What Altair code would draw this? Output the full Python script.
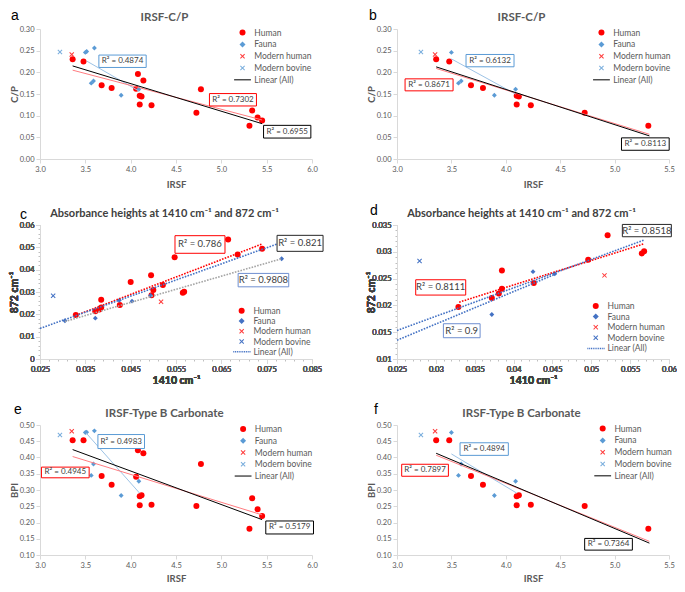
import altair as alt
import pandas as pd

FONT = "Lato"
SERIES = ["Human", "Fauna", "Modern human", "Modern bovine", "Linear (All)"]

# ---------------- IRSF / C/P / BPI samples (panels a, b, e, f) ----------------
human_irsf = [3.36, 3.48, 3.68, 3.79, 4.06, 4.08, 4.14, 4.10, 4.12, 4.10, 4.23, 4.725, 4.775, 5.31, 5.34, 5.40, 5.45]
human_cp = [0.230, 0.225, 0.170, 0.164, 0.162, 0.196, 0.181, 0.146, 0.144, 0.126, 0.124, 0.107, 0.161, 0.077, 0.112, 0.096, 0.089]
human_bpi = [0.453, 0.453, 0.343, 0.316, 0.341, 0.422, 0.413, 0.281, 0.284, 0.253, 0.255, 0.251, 0.380, 0.181, 0.275, 0.241, 0.220]
human_in_bf = [1, 1, 1, 1, 0, 0, 0, 1, 1, 1, 1, 1, 0, 1, 0, 0, 0]

fauna_irsf = [3.50, 3.515, 3.60, 3.565, 3.59, 3.895, 4.09]
fauna_cp = [0.246, 0.248, 0.256, 0.175, 0.180, 0.147, 0.161]
fauna_bpi = [0.477, 0.478, 0.482, 0.345, 0.380, 0.283, 0.327]
fauna_in_bf = [1, 0, 0, 1, 1, 1, 1]

modern_human_irsf = [3.35]
modern_human_cp = [0.241]
modern_human_bpi = [0.481]
modern_bovine_irsf = [3.22]
modern_bovine_cp = [0.247]
modern_bovine_bpi = [0.469]

# ---------------- absorbance heights (panels c, d) ----------------
human_a1410 = [0.0329, 0.0372, 0.0381, 0.0385, 0.0385, 0.0426, 0.0450, 0.0495, 0.0496, 0.0500, 0.0521, 0.0547, 0.0565, 0.0568, 0.0665, 0.0686, 0.0740]
human_a872 = [0.0197, 0.0214, 0.0222, 0.0231, 0.0265, 0.0242, 0.0345, 0.0375, 0.0285, 0.0309, 0.0331, 0.0456, 0.0297, 0.0301, 0.0535, 0.0468, 0.0494]
human_in_d = [1, 1, 1, 1, 1, 1, 0, 0, 1, 0, 1, 0, 1, 1, 0, 0, 0]
fauna_a1410 = [0.0305, 0.0372, 0.0425, 0.0453, 0.0494, 0.0783]
fauna_a872 = [0.0171, 0.0183, 0.0263, 0.0259, 0.0284, 0.0449]
fauna_in_d = [0, 1, 1, 1, 0, 0]
modern_human_a1410 = [0.0517]
modern_human_a872 = [0.0256]
modern_bovine_a1410 = [0.0279]
modern_bovine_a872 = [0.0283]

# ---------------- trendline end points ----------------
a_all_x, a_all_y = [3.36, 5.45], [0.2148, 0.0815]
a_hum_x, a_hum_y = [3.36, 5.45], [0.205, 0.090]
a_fau_x, a_fau_y = [3.515, 4.09], [0.226, 0.157]
b_all_x, b_all_y = [3.36, 5.32], [0.2126, 0.0533]
b_hum_x, b_hum_y = [3.36, 5.32], [0.209, 0.057]
b_fau_x, b_fau_y = [3.50, 4.09], [0.231, 0.1496]
c_all_x, c_all_y = [0.025, 0.0783], [0.0137, 0.0522]
c_hum_x, c_hum_y = [0.0329, 0.0740], [0.0195, 0.0515]
c_fau_x, c_fau_y = [0.0305, 0.0783], [0.0168, 0.0449]
d_all_x, d_all_y = [0.025, 0.0568], [0.0153, 0.0322]
d_hum_x, d_hum_y = [0.0330, 0.0568], [0.0206, 0.0315]
d_fau_x, d_fau_y = [0.025, 0.0455], [0.0135, 0.0259]
e_all_x, e_all_y = [3.36, 5.45], [0.4244, 0.2088]
e_hum_x, e_hum_y = [3.36, 5.45], [0.403, 0.2235]
e_fau_x, e_fau_y = [3.51, 4.10], [0.475, 0.290]
f_all_x, f_all_y = [3.36, 5.32], [0.413, 0.1365]
f_hum_x, f_hum_y = [3.36, 5.32], [0.407, 0.142]
f_fau_x, f_fau_y = [3.50, 4.10], [0.411, 0.2906]

# R² labels (fauna, human, all)
r2_a = ["R² = 0.4874", "R² = 0.7302", "R² = 0.6955"]
r2_b = ["R² = 0.6132", "R² = 0.8671", "R² = 0.8113"]
r2_c = ["R² = 0.9808", "R² = 0.786", "R² = 0.821"]
r2_d = ["R² = 0.9", "R² = 0.8111", "R² = 0.8518"]
r2_e = ["R² = 0.4983", "R² = 0.4945", "R² = 0.5179"]
r2_f = ["R² = 0.4894", "R² = 0.7897", "R² = 0.7364"]

# axis tick labels
irsf_ticks_6 = [3.0, 3.5, 4.0, 4.5, 5.0, 5.5, 6.0]
irsf_ticks_55 = [3.0, 3.5, 4.0, 4.5, 5.0, 5.5]
cp_ticks = [0.0, 0.05, 0.10, 0.15, 0.20, 0.25, 0.30]
bpi_ticks = [0.10, 0.15, 0.20, 0.25, 0.30, 0.35, 0.40, 0.45, 0.50]
a1410_ticks_c = [0.025, 0.035, 0.045, 0.055, 0.065, 0.075, 0.085]
a872_ticks_c = [0.0, 0.01, 0.02, 0.03, 0.04, 0.05, 0.06]
a1410_ticks_d = [0.025, 0.03, 0.035, 0.04, 0.045, 0.05, 0.055, 0.06]
a872_ticks_d = [0.01, 0.015, 0.02, 0.025, 0.03, 0.035]

# minor tick marks (panels c, d): five per major interval
def minor(lo, hi, step):
    n = int(round((hi - lo) / step))
    return [round(lo + i * step, 5) for i in range(n + 1)]

minor_x_c = minor(0.025, 0.085, 0.002)
minor_y_c = minor(0.0, 0.06, 0.002)
minor_x_d = minor(0.025, 0.06, 0.001)
minor_y_d = minor(0.01, 0.035, 0.001)

# ---------------- layout / style ----------------
W = 272
XPATH = ("M-0.83,-0.59L-0.59,-0.83L0,-0.24L0.59,-0.83L0.83,-0.59L0.24,0L0.83,0.59"
         "L0.59,0.83L0,0.24L-0.59,0.83L-0.83,0.59L-0.24,0Z")
LINE_SOLID = "M-2.8,-0.17L2.8,-0.17L2.8,0.17L-2.8,0.17Z"
_segs = []
_x = -2.8
while _x < 2.8:
    _segs.append(f"M{_x:.2f},-0.25L{_x+0.35:.2f},-0.25L{_x+0.35:.2f},0.25L{_x:.2f},0.25Z")
    _x += 0.6
LINE_DOTTED = "".join(_segs)


def rows(xl, yl, series, flags=None):
    return pd.DataFrame([{"x": a, "y": b, "series": series}
                         for i, (a, b) in enumerate(zip(xl, yl)) if flags is None or flags[i]])


def seg(xl, yl):
    return pd.DataFrame({"x": xl, "y": yl})


def panel(p):
    H = p["H"]
    sx = W / p["ref"][0]
    sy = H / p["ref"][1]
    big = p["big"]
    xs = alt.Scale(domain=p["xdom"], nice=False, zero=False)
    ys = alt.Scale(domain=p["ydom"], nice=False, zero=False)
    tcol = "#404040" if big else "#595959"
    tsize = 10.5 if big else 9.5
    xax = alt.Axis(values=p["xticks"], format=p["xfmt"], title=p["xtitle"], titlePadding=p["xtp"],
                   titleColor=tcol, titleFontSize=tsize, orient="bottom")
    yax = alt.Axis(values=p["yticks"], format=p["yfmt"], title=p["ytitle"],
                   titleColor=tcol, titleFontSize=tsize, orient="left")
    X = alt.X("x:Q", scale=xs, axis=xax)
    Y = alt.Y("y:Q", scale=ys, axis=yax)
    lx, ly, lsp = p["legend"]
    lfs = 8.5
    leg = alt.Legend(orient="none", legendX=lx * sx - 3, legendY=ly * sy - lfs / 2, title=None,
                     direction="vertical", labelFont=FONT, labelFontSize=lfs, labelColor="#595959",
                     symbolSize=36, symbolStrokeWidth=0, symbolOpacity=1, padding=0,
                     rowPadding=max(lsp * sy - lfs, 0), labelOffset=7.5)
    shapes = ["circle", "diamond", XPATH, XPATH, LINE_DOTTED if big else LINE_SOLID]
    col = alt.Color("series:N", scale=alt.Scale(domain=SERIES, range=p["colors"]), legend=leg)
    shp = alt.Shape("series:N", scale=alt.Scale(domain=SERIES, range=shapes), legend=leg)
    layers = []
    for df, size in p["points"]:
        layers.append(alt.Chart(df).mark_point(filled=True, opacity=1, size=size, strokeWidth=0)
                      .encode(x=X, y=Y, color=col, shape=shp))
    for df, color, width, dotted in p["lines"]:
        kw = dict(color=color, strokeWidth=width)
        if dotted:
            kw["strokeDash"] = [1.6, 1.3]
        layers.append(alt.Chart(df).mark_line(**kw).encode(x=X, y=Y))
    fs = 9.5 if big else 8
    for (x0, x1, y0, y1), txt, stroke in zip(p["boxes"], p["r2"], p["box_colors"]):
        cx = (x0 + x1) / 2 * sx
        cy = (y0 + y1) / 2 * sy
        hw = (x1 - x0) / 2
        hh = (y1 - y0) / 2
        base = alt.Chart(pd.DataFrame({"label": [txt]}))
        layers.append(base.mark_rect(fill="white", stroke=stroke, strokeWidth=1)
                      .encode(x=alt.value(cx - hw), x2=alt.value(cx + hw),
                              y=alt.value(cy - hh), y2=alt.value(cy + hh)))
        layers.append(base.mark_text(font=FONT, fontSize=fs, color="#404040")
                      .encode(x=alt.value(cx), y=alt.value(cy), text="label:N"))
    # panel title and letter
    tb = alt.Chart(pd.DataFrame({"label": [p["title"]]}))
    layers.append(tb.mark_text(font=FONT, fontSize=11 if big else 11.5, fontWeight="bold",
                               color=tcol, baseline="middle")
                  .encode(x=alt.value(W / 2 - 11.5), y=alt.value(-11.5), text="label:N"))
    lb = alt.Chart(pd.DataFrame({"label": [p["letter"]]}))
    layers.append(lb.mark_text(font="Liberation Sans", fontSize=14, color="black", align="left",
                               baseline="alphabetic")
                  .encode(x=alt.value(p["lpos"][0]), y=alt.value(p["lpos"][1]), text="label:N"))
    out = alt.layer(*layers)
    if p.get("minor"):
        mx, my = p["minor"]
        max_ = alt.Axis(values=mx, labels=False, domain=False, tickSize=2, title=None, orient="bottom",
                        tickColor="#BFBFBF")
        may = alt.Axis(values=my, labels=False, domain=False, tickSize=2, title=None, orient="left",
                       tickColor="#BFBFBF", minExtent=0, maxExtent=0)
        ghost = (alt.Chart(p["points"][0][0]).mark_point(opacity=0, size=1)
                 .encode(x=alt.X("x:Q", scale=xs, axis=max_), y=alt.Y("y:Q", scale=ys, axis=may)))
        out = alt.layer(ghost, *layers).resolve_axis(x="independent", y="independent")
    return out.properties(width=W, height=H)


COL_LIGHT = ["#FF0000", "#5B9BD5", "#FF3B3B", "#7AAEDD", "#000000"]
COL_DARK = ["#FF0000", "#4472C4", "#FF3B3B", "#4472C4", "#4472C4"]
BOX_LIGHT = ["#5B9BD5", "#FF0000", "#000000"]
BOX_DARK = ["#6F8FD0", "#FF0000", "#262626"]


def light_lines(ax, ay, hx, hy, fx, fy):
    return [(seg(fx, fy), "#9DC3E6", 1.0, False),
            (seg(hx, hy), "#FF7C80", 1.0, False),
            (seg(ax, ay), "#000000", 1.0, False)]


pts_a = [(rows(human_irsf, human_cp, "Human"), 36),
         (rows(fauna_irsf, fauna_cp, "Fauna"), 24),
         (rows(modern_human_irsf, modern_human_cp, "Modern human"), 36),
         (rows(modern_bovine_irsf, modern_bovine_cp, "Modern bovine"), 36)]
pts_b = [(rows(human_irsf, human_cp, "Human", human_in_bf), 36),
         (rows(fauna_irsf, fauna_cp, "Fauna", fauna_in_bf), 24),
         (rows(modern_human_irsf, modern_human_cp, "Modern human"), 36),
         (rows(modern_bovine_irsf, modern_bovine_cp, "Modern bovine"), 36)]
pts_e = [(rows(human_irsf, human_bpi, "Human"), 36),
         (rows(fauna_irsf, fauna_bpi, "Fauna"), 24),
         (rows(modern_human_irsf, modern_human_bpi, "Modern human"), 36),
         (rows(modern_bovine_irsf, modern_bovine_bpi, "Modern bovine"), 36)]
pts_f = [(rows(human_irsf, human_bpi, "Human", human_in_bf), 36),
         (rows(fauna_irsf, fauna_bpi, "Fauna", fauna_in_bf), 24),
         (rows(modern_human_irsf, modern_human_bpi, "Modern human"), 36),
         (rows(modern_bovine_irsf, modern_bovine_bpi, "Modern bovine"), 36)]
pts_c = [(rows(human_a1410, human_a872, "Human"), 36),
         (rows(fauna_a1410, fauna_a872, "Fauna"), 24),
         (rows(modern_human_a1410, modern_human_a872, "Modern human"), 36),
         (rows(modern_bovine_a1410, modern_bovine_a872, "Modern bovine"), 36)]
pts_d = [(rows(human_a1410, human_a872, "Human", human_in_d), 36),
         (rows(fauna_a1410, fauna_a872, "Fauna", fauna_in_d), 24),
         (rows(modern_human_a1410, modern_human_a872, "Modern human"), 36),
         (rows(modern_bovine_a1410, modern_bovine_a872, "Modern bovine"), 36)]

ABS_TITLE = "Absorbance heights at 1410 cm⁻¹ and 872 cm⁻¹"

specs = [
    dict(letter="a", title="IRSF-C/P", H=130, ref=(278, 135), big=False, lpos=(-29, -9),
         xdom=[3.0, 6.0], ydom=[0.0, 0.30], xticks=irsf_ticks_6, yticks=cp_ticks, xfmt=".1f", yfmt=".2f",
         xtitle="IRSF", ytitle="C/P", xtp=7, legend=(205.7, 3.7, 11.75), colors=COL_LIGHT,
         points=pts_a, lines=light_lines(a_all_x, a_all_y, a_hum_x, a_hum_y, a_fau_x, a_fau_y),
         boxes=[(60.7, 108, 27.3, 39.7), (173.7, 220.7, 67.3, 79.7), (229, 276.3, 100.3, 113)],
         r2=r2_a, box_colors=BOX_LIGHT),
    dict(letter="b", title="IRSF-C/P", H=130, ref=(274, 135), big=False, lpos=(-28, -9),
         xdom=[3.0, 5.5], ydom=[0.0, 0.30], xticks=irsf_ticks_55, yticks=cp_ticks, xfmt=".1f", yfmt=".2f",
         xtitle="IRSF", ytitle="C/P", xtp=7, legend=(204.7, 3.7, 11.75), colors=COL_LIGHT,
         points=pts_b, lines=light_lines(b_all_x, b_all_y, b_hum_x, b_hum_y, b_fau_x, b_fau_y),
         boxes=[(69.7, 117.7, 26.7, 39), (8.3, 56.3, 52, 64), (226.3, 274, 113.3, 125.7)],
         r2=r2_b, box_colors=BOX_LIGHT),
    dict(letter="c", title=ABS_TITLE, H=134, ref=(280, 141), big=True, lpos=(-20, -6),
         xdom=[0.025, 0.085], ydom=[0.0, 0.06], xticks=a1410_ticks_c, yticks=a872_ticks_c,
         xfmt=".3f", yfmt=".2~f", xtitle="1410 cm⁻¹", ytitle="872 cm⁻¹", xtp=3,
         legend=(206.3, 90.3, 10.25), colors=COL_DARK, points=pts_c, minor=(minor_x_c, minor_y_c),
         lines=[(seg(c_fau_x, c_fau_y), "#A5A5A5", 1.6, True),
                (seg(c_hum_x, c_hum_y), "#FF0000", 1.6, True),
                (seg(c_all_x, c_all_y), "#4472C4", 1.6, True)],
         boxes=[(204.7, 255.3, 51.3, 64.7), (139.7, 189.7, 11.7, 29.3), (244.7, 290.7, 11.3, 27.3)],
         r2=r2_c, box_colors=BOX_DARK),
    dict(letter="d", title=ABS_TITLE, H=134, ref=(280, 140.3), big=True, lpos=(-27, -10),
         xdom=[0.025, 0.06], ydom=[0.01, 0.035], xticks=a1410_ticks_d, yticks=a872_ticks_d,
         xfmt=".3~f", yfmt=".3~f", xtitle="1410 cm⁻¹", ytitle="872 cm⁻¹", xtp=3,
         legend=(203.3, 84.7, 10.6), colors=COL_DARK, points=pts_d, minor=(minor_x_d, minor_y_d),
         lines=[(seg(d_fau_x, d_fau_y), "#4472C4", 1.6, True),
                (seg(d_hum_x, d_hum_y), "#FF0000", 1.6, True),
                (seg(d_all_x, d_all_y), "#4472C4", 1.6, True)],
         boxes=[(48.3, 85, 103.7, 117.7), (20, 70, 57.7, 73), (232.7, 281.7, -0.3, 12)],
         r2=r2_d, box_colors=BOX_DARK),
    dict(letter="e", title="IRSF-Type B Carbonate", H=130, ref=(278, 136), big=False, lpos=(-26, -11),
         xdom=[3.0, 6.0], ydom=[0.10, 0.50], xticks=irsf_ticks_6, yticks=bpi_ticks, xfmt=".1f", yfmt=".2f",
         xtitle="IRSF", ytitle="BPI", xtp=5, legend=(206.3, 4.3, 11.75), colors=COL_LIGHT,
         points=pts_e, lines=light_lines(e_all_x, e_all_y, e_hum_x, e_hum_y, e_fau_x, e_fau_y),
         boxes=[(59.7, 106.3, 10.3, 24.3), (2, 49.7, 44.3, 55), (231.3, 279, 100.7, 113.7)],
         r2=r2_e, box_colors=BOX_LIGHT),
    dict(letter="f", title="IRSF-Type B Carbonate", H=130, ref=(275, 135), big=False, lpos=(-23, -11),
         xdom=[3.0, 5.5], ydom=[0.10, 0.50], xticks=irsf_ticks_55, yticks=bpi_ticks, xfmt=".1f", yfmt=".2f",
         xtitle="IRSF", ytitle="BPI", xtp=5, legend=(206.7, 3.7, 11.75), colors=COL_LIGHT,
         points=pts_f, lines=light_lines(f_all_x, f_all_y, f_hum_x, f_hum_y, f_fau_x, f_fau_y),
         boxes=[(64, 112.3, 18.7, 31.3), (5, 51.7, 41, 53), (190, 237.7, 118, 129.7)],
         r2=r2_f, box_colors=BOX_LIGHT),
]

panels = [panel(s) for s in specs]

chart = (
    alt.ConcatChart(concat=panels, columns=2, spacing={"row": 66, "column": 85}, bounds="flush")
    .resolve_scale(color="independent", shape="independent")
    .resolve_legend(color="independent", shape="independent")
    .properties(padding=0, background="white")
    .configure_view(stroke="transparent")
    .configure_axis(domainColor="#D9D9D9", tickColor="#D9D9D9", grid=False, labelFont=FONT,
                    titleFont=FONT, labelColor="#595959", labelFontSize=7.5, titleFontWeight="bold",
                    tickSize=4, labelPadding=2, labelFlush=False)
    .configure_axisY(minExtent=21, maxExtent=21, titlePadding=0)
)

chart.save("out.html", embed_options={"renderer": "svg", "actions": False})
